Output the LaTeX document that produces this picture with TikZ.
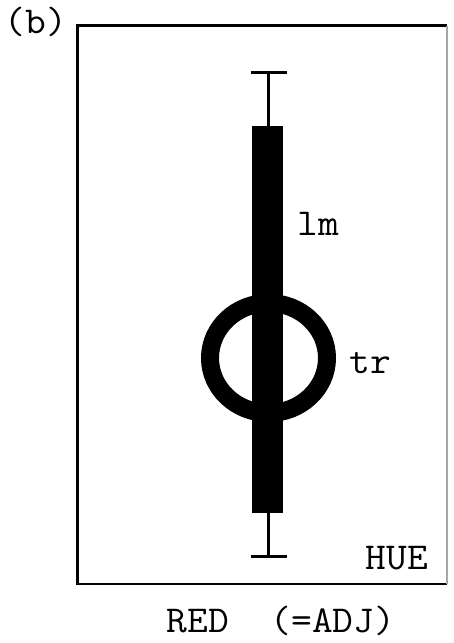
\documentclass[tikz,border=0pt]{standalone}
\begin{document}
\begin{tikzpicture}[x=1pt,y=-1pt,
  lbl/.style={font=\ttfamily\fontsize{38}{42}\selectfont, inner sep=0pt, anchor=base, xscale=1.06, transform shape},
  whisk/.style={line width=3pt},
  frameline/.style={line width=2.5pt}]
\useasboundingbox (0,0) rectangle (453,643);
\fill[white] (0,0) rectangle (453,643);
% frame
\draw[frameline] (447,25.5) -- (77.5,25.5) -- (77.5,584) -- (447,584);
\draw[frameline, black!35, line width=1.5pt] (447,25.5) -- (447,584);
% whiskers
\draw[whisk] (268.5,72) -- (268.5,556);
\draw[whisk] (251,72) -- (287,72);
\draw[whisk] (251,556) -- (287,556);
% thick bar
\fill (252,126) rectangle (283,513);
% ring
\draw[line width=18pt] (268.5,358) ellipse [x radius=58.5, y radius=55];
% labels
\node[lbl] (b) at (36,33) {(b)};
\node[lbl] (lm) at (318,235) {lm};
\node[lbl] (tr) at (370,373) {tr};
\node[lbl] (hue) at (397,569) {HUE};
\node[lbl] (red) at (281,632) {RED~~(=ADJ)};
\end{tikzpicture}
\end{document}
